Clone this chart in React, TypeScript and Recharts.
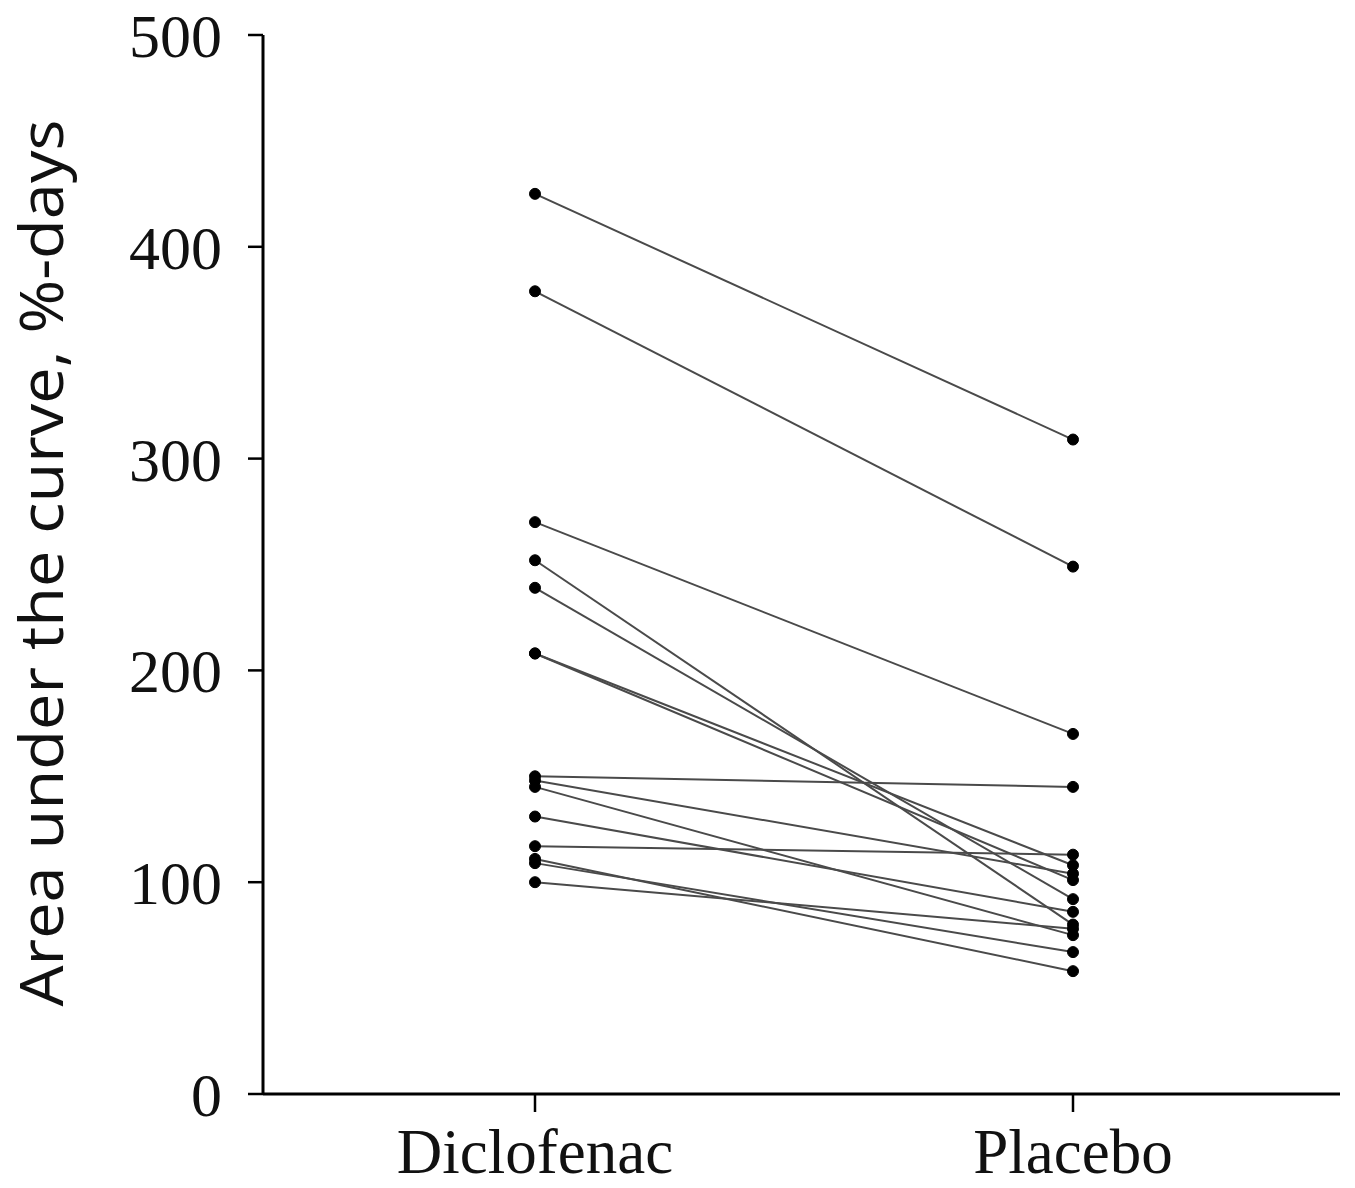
import React from 'react';
import { LineChart, Line, XAxis, YAxis, Label } from 'recharts';

// one entry per subject, paired by index
const groups = ['Diclofenac', 'Placebo'];
const diclofenac = [425, 379, 270, 252, 239, 208, 208, 150, 148, 145, 131, 117, 111, 109, 100];
const placebo = [309, 249, 170, 80, 92, 108, 101, 145, 104, 75, 86, 113, 58, 67, 78];
const yTicks = [0, 100, 200, 300, 400, 500];

const series = [diclofenac, placebo];
const chartData = groups.map((g, gi) => {
  const row: Record<string, string | number> = { group: g };
  series[gi].forEach((v, i) => {
    row[`s${i}`] = v;
  });
  return row;
});

const serif = '"Liberation Serif", "Times New Roman", serif';
const sans = '"Open Sans", "Noto Sans", sans-serif';

const YTitle = () => (
  <text
    x={40}
    y={563}
    transform="rotate(-90 40 563)"
    textAnchor="middle"
    dominantBaseline="central"
    fontFamily={sans}
    fontSize={60}
    textLength={887}
    lengthAdjust="spacingAndGlyphs"
    fill="#111"
  >
    Area under the curve, %-days
  </text>
);

const App: React.FC = () => {
  return (
    <div style={{ width: 1355, height: 1188, background: '#fff' }}>
      <style>{'body{margin:0}'}</style>
      <LineChart width={1355} height={1188} data={chartData} margin={{ top: 35, right: 15, left: 0, bottom: 0 }}>
        <XAxis
          dataKey="group"
          height={94}
          padding={{ left: 272, right: 267 }}
          axisLine={{ stroke: '#000', strokeWidth: 3 }}
          tickLine={{ stroke: '#000', strokeWidth: 2.5 }}
          tickSize={18}
          tickMargin={16}
          tick={{ fontFamily: serif, fontSize: 63, fill: '#111' }}
        />
        <YAxis
          width={263}
          domain={[0, 500]}
          ticks={yTicks}
          interval={0}
          axisLine={{ stroke: '#000', strokeWidth: 3 }}
          tickLine={{ stroke: '#000', strokeWidth: 2.5 }}
          tickSize={15}
          tickMargin={26}
          tick={{ fontFamily: serif, fontSize: 62, fill: '#111' }}
        >
          <Label content={<YTitle />} />
        </YAxis>
        {diclofenac.map((_, i) => (
          <Line
            key={i}
            dataKey={`s${i}`}
            type="linear"
            stroke="#4a4a4a"
            strokeWidth={2}
            dot={{ r: 5.5, fill: '#000', stroke: '#000', strokeWidth: 1 }}
            activeDot={false}
            isAnimationActive={false}
          />
        ))}
      </LineChart>
    </div>
  );
};

export default App;
